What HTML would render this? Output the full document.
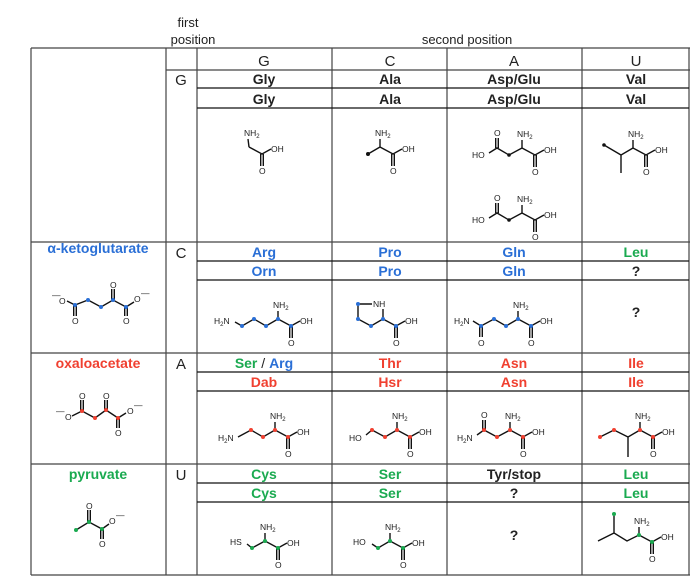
<!DOCTYPE html>
<html><head><meta charset="utf-8"><style>
html,body{margin:0;padding:0;background:#fff}
svg{display:block}
text{font-family:"Liberation Sans",Arial,sans-serif}
.n{font-size:14px;font-weight:bold;text-anchor:middle}
.h{font-size:15px;text-anchor:middle;fill:#222}
.a{font-size:8.5px;fill:#222}
.b{stroke:#111;stroke-width:1.4;fill:none}
.g{stroke:#444;stroke-width:1.2}
.gk{stroke:#111;stroke-width:1.3}
</style></head><body>
<svg width="700" height="585" viewBox="0 0 700 585">
<text x="188" y="27" style="font-size:13px;fill:#222" text-anchor="middle">first</text>
<text x="193" y="44" style="font-size:13px;fill:#222" text-anchor="middle">position</text>
<text x="467" y="44" style="font-size:13px;fill:#222" text-anchor="middle">second position</text>
<!-- grid -->
<g class="g">
<line x1="31" y1="48" x2="690" y2="48"/>
<line x1="31" y1="48" x2="31" y2="575"/>
<line x1="166" y1="48" x2="166" y2="575"/>
<line x1="197" y1="48" x2="197" y2="575"/>
<line x1="332" y1="48" x2="332" y2="575"/>
<line x1="447" y1="48" x2="447" y2="575"/>
<line x1="582" y1="48" x2="582" y2="575"/>
<line x1="689" y1="48" x2="689" y2="575"/>
<line x1="31" y1="575" x2="690" y2="575"/>
<line x1="166" y1="70" x2="690" y2="70"/>
<line x1="31" y1="242" x2="690" y2="242"/>
<line x1="31" y1="353" x2="690" y2="353"/>
<line x1="31" y1="464" x2="690" y2="464"/>
</g>
<g class="gk">
<line x1="197" y1="88" x2="689" y2="88"/><line x1="197" y1="108" x2="689" y2="108"/>
<line x1="197" y1="261" x2="689" y2="261"/><line x1="197" y1="280" x2="689" y2="280"/>
<line x1="197" y1="372" x2="689" y2="372"/><line x1="197" y1="391" x2="689" y2="391"/>
<line x1="197" y1="483" x2="689" y2="483"/><line x1="197" y1="502" x2="689" y2="502"/>
</g>
<!-- headers -->
<text class="h" x="264" y="66">G</text><text class="h" x="390" y="66">C</text>
<text class="h" x="514" y="66">A</text><text class="h" x="636" y="66">U</text>
<text class="h" x="181" y="85">G</text><text class="h" x="181" y="258">C</text>
<text class="h" x="181" y="369">A</text><text class="h" x="181" y="480">U</text>
<!-- names -->
<g fill="#222">
<text class="n" x="264" y="84">Gly</text><text class="n" x="390" y="84">Ala</text><text class="n" x="514" y="84">Asp/Glu</text><text class="n" x="636" y="84">Val</text>
<text class="n" x="264" y="104">Gly</text><text class="n" x="390" y="104">Ala</text><text class="n" x="514" y="104">Asp/Glu</text><text class="n" x="636" y="104">Val</text>
</g>
<g fill="#2a6fd6">
<text class="n" x="264" y="257">Arg</text><text class="n" x="390" y="257">Pro</text><text class="n" x="514" y="257">Gln</text>
<text class="n" x="264" y="276">Orn</text><text class="n" x="390" y="276">Pro</text><text class="n" x="514" y="276">Gln</text>
<text class="n" x="98" y="253">α-ketoglutarate</text>
</g>
<text class="n" x="636" y="257" fill="#1aaa50">Leu</text>
<text class="n" x="636" y="276" fill="#222">?</text>
<text class="n" x="636" y="317" fill="#222">?</text>
<g fill="#f04030">
<text class="n" x="390" y="368">Thr</text><text class="n" x="514" y="368">Asn</text><text class="n" x="636" y="368">Ile</text>
<text class="n" x="264" y="387">Dab</text><text class="n" x="390" y="387">Hsr</text><text class="n" x="514" y="387">Asn</text><text class="n" x="636" y="387">Ile</text>
<text class="n" x="98" y="368">oxaloacetate</text>
</g>
<text class="n" x="264" y="368"><tspan fill="#1aaa50">Ser</tspan><tspan fill="#222" font-weight="normal"> / </tspan><tspan fill="#2a6fd6">Arg</tspan></text>
<g fill="#1aaa50">
<text class="n" x="264" y="479">Cys</text><text class="n" x="390" y="479">Ser</text><text class="n" x="636" y="479">Leu</text>
<text class="n" x="264" y="498">Cys</text><text class="n" x="390" y="498">Ser</text><text class="n" x="636" y="498">Leu</text>
<text class="n" x="98" y="479">pyruvate</text>
</g>
<text class="n" x="514" y="479" fill="#222">Tyr/stop</text>
<text class="n" x="514" y="498" fill="#222">?</text>
<text class="n" x="514" y="540" fill="#222">?</text>

<!-- backbones -->
<g id="bbs">
<!-- helper pattern repeated -->
<g transform="translate(249,147)"><path class="b" d="M0,0 L-1,-8 M0,0 L13,7 L22,2 M11.7,7 L11.7,19 M14.3,7 L14.3,19"/><text class="a" x="-5" y="-11">NH<tspan font-size="6" dy="2">2</tspan></text><text class="a" x="22" y="5">OH</text><text class="a" x="10" y="27">O</text></g>
<g transform="translate(380,147)"><path class="b" d="M0,0 L0,-8 M0,0 L13,7 L22,2 M11.7,7 L11.7,19 M14.3,7 L14.3,19 M0,0 L-12,7"/><circle cx="-12" cy="7" r="2" fill="#111"/><text class="a" x="-5" y="-11">NH<tspan font-size="6" dy="2">2</tspan></text><text class="a" x="22" y="5">OH</text><text class="a" x="10" y="27">O</text></g>
<g transform="translate(522,148)"><path class="b" d="M0,0 L0,-8 M0,0 L13,7 L22,2 M11.7,7 L11.7,19 M14.3,7 L14.3,19 M0,0 L-13,7 L-25,0 L-33,5 M-26.3,0 L-26.3,-10 M-23.7,0 L-23.7,-10"/><circle cx="-13" cy="7" r="1.8" fill="#111"/><text class="a" x="-5" y="-11">NH<tspan font-size="6" dy="2">2</tspan></text><text class="a" x="22" y="5">OH</text><text class="a" x="10" y="27">O</text><text class="a" x="-28" y="-12">O</text><text class="a" x="-50" y="10">HO</text></g>
<g transform="translate(522,213)"><path class="b" d="M0,0 L0,-8 M0,0 L13,7 L22,2 M11.7,7 L11.7,19 M14.3,7 L14.3,19 M0,0 L-13,7 L-25,0 L-33,5 M-26.3,0 L-26.3,-10 M-23.7,0 L-23.7,-10"/><circle cx="-13" cy="7" r="1.8" fill="#111"/><text class="a" x="-5" y="-11">NH<tspan font-size="6" dy="2">2</tspan></text><text class="a" x="22" y="5">OH</text><text class="a" x="10" y="27">O</text><text class="a" x="-28" y="-12">O</text><text class="a" x="-50" y="10">HO</text></g>
<g transform="translate(633,148)"><path class="b" d="M0,0 L0,-8 M0,0 L13,7 L22,2 M11.7,7 L11.7,19 M14.3,7 L14.3,19 M0,0 L-12,7 L-12,25 M-12,7 L-29,-3"/><circle cx="-29" cy="-3" r="1.8" fill="#111"/><text class="a" x="-5" y="-11">NH<tspan font-size="6" dy="2">2</tspan></text><text class="a" x="22" y="5">OH</text><text class="a" x="10" y="27">O</text></g>

<!-- C row blue -->
<g transform="translate(278,319)"><path class="b" d="M0,0 L0,-8 M0,0 L13,7 L22,2 M11.7,7 L11.7,19 M14.3,7 L14.3,19 M0,0 L-12,7 L-24,0 L-36,7 L-43,3"/><g fill="#2a6fd6"><circle r="2"/><circle cx="13" cy="7" r="2"/><circle cx="-12" cy="7" r="2"/><circle cx="-24" cy="0" r="2"/><circle cx="-36" cy="7" r="2"/></g><text class="a" x="-5" y="-11">NH<tspan font-size="6" dy="2">2</tspan></text><text class="a" x="22" y="5">OH</text><text class="a" x="10" y="27">O</text><text class="a" x="-64" y="5">H<tspan font-size="6" dy="2">2</tspan><tspan dy="-2">N</tspan></text></g>
<g transform="translate(383,319)"><path class="b" d="M0,0 L13,7 L22,2 M11.7,7 L11.7,19 M14.3,7 L14.3,19 M0,0 L-12,7 L-25,0 L-25,-15 L-11,-15 M0,0 L0,-10"/><g fill="#2a6fd6"><circle r="2"/><circle cx="13" cy="7" r="2"/><circle cx="-12" cy="7" r="2"/><circle cx="-25" cy="0" r="2"/><circle cx="-25" cy="-15" r="2"/></g><text class="a" x="-10" y="-12">NH</text><text class="a" x="22" y="5">OH</text><text class="a" x="10" y="27">O</text></g>
<g transform="translate(518,319)"><path class="b" d="M0,0 L0,-8 M0,0 L13,7 L22,2 M11.7,7 L11.7,19 M14.3,7 L14.3,19 M0,0 L-12,7 L-24,0 L-37,7 L-45,2 M-38.3,7 L-38.3,18 M-35.7,7 L-35.7,18"/><g fill="#2a6fd6"><circle r="2"/><circle cx="13" cy="7" r="2"/><circle cx="-12" cy="7" r="2"/><circle cx="-24" cy="0" r="2"/><circle cx="-37" cy="7" r="2"/></g><text class="a" x="-5" y="-11">NH<tspan font-size="6" dy="2">2</tspan></text><text class="a" x="22" y="5">OH</text><text class="a" x="10" y="27">O</text><text class="a" x="-40" y="27">O</text><text class="a" x="-64" y="5">H<tspan font-size="6" dy="2">2</tspan><tspan dy="-2">N</tspan></text></g>

<!-- A row red -->
<g transform="translate(275,430)"><path class="b" d="M0,0 L0,-8 M0,0 L13,7 L22,2 M11.7,7 L11.7,19 M14.3,7 L14.3,19 M0,0 L-12,7 L-24,0 L-37,7"/><g fill="#f04030"><circle r="2"/><circle cx="13" cy="7" r="2"/><circle cx="-12" cy="7" r="2"/><circle cx="-24" cy="0" r="2"/></g><text class="a" x="-5" y="-11">NH<tspan font-size="6" dy="2">2</tspan></text><text class="a" x="22" y="5">OH</text><text class="a" x="10" y="27">O</text><text class="a" x="-57" y="11">H<tspan font-size="6" dy="2">2</tspan><tspan dy="-2">N</tspan></text></g>
<g transform="translate(397,430)"><path class="b" d="M0,0 L0,-8 M0,0 L13,7 L22,2 M11.7,7 L11.7,19 M14.3,7 L14.3,19 M0,0 L-12,7 L-25,0 L-31,5"/><g fill="#f04030"><circle r="2"/><circle cx="13" cy="7" r="2"/><circle cx="-12" cy="7" r="2"/><circle cx="-25" cy="0" r="2"/></g><text class="a" x="-5" y="-11">NH<tspan font-size="6" dy="2">2</tspan></text><text class="a" x="22" y="5">OH</text><text class="a" x="10" y="27">O</text><text class="a" x="-48" y="11">HO</text></g>
<g transform="translate(510,430)"><path class="b" d="M0,0 L0,-8 M0,0 L13,7 L22,2 M11.7,7 L11.7,19 M14.3,7 L14.3,19 M0,0 L-13,7 L-26,0 L-33,5 M-27.3,0 L-27.3,-10 M-24.7,0 L-24.7,-10"/><g fill="#f04030"><circle r="2"/><circle cx="13" cy="7" r="2"/><circle cx="-13" cy="7" r="2"/><circle cx="-26" cy="0" r="2"/></g><text class="a" x="-5" y="-11">NH<tspan font-size="6" dy="2">2</tspan></text><text class="a" x="22" y="5">OH</text><text class="a" x="10" y="27">O</text><text class="a" x="-29" y="-12">O</text><text class="a" x="-53" y="11">H<tspan font-size="6" dy="2">2</tspan><tspan dy="-2">N</tspan></text></g>
<g transform="translate(640,430)"><path class="b" d="M0,0 L0,-8 M0,0 L13,7 L22,2 M11.7,7 L11.7,19 M14.3,7 L14.3,19 M0,0 L-12,7 L-12,27 M-12,7 L-26,0 L-40,7"/><g fill="#f04030"><circle r="2"/><circle cx="13" cy="7" r="2"/><circle cx="-26" cy="0" r="2"/><circle cx="-40" cy="7" r="2"/></g><text class="a" x="-5" y="-11">NH<tspan font-size="6" dy="2">2</tspan></text><text class="a" x="22" y="5">OH</text><text class="a" x="10" y="27">O</text></g>

<!-- U row green -->
<g transform="translate(265,541)"><path class="b" d="M0,0 L0,-8 M0,0 L13,7 L22,2 M11.7,7 L11.7,19 M14.3,7 L14.3,19 M0,0 L-13,7 L-18,3"/><g fill="#1aaa50"><circle r="2"/><circle cx="13" cy="7" r="2"/><circle cx="-13" cy="7" r="2"/></g><text class="a" x="-5" y="-11">NH<tspan font-size="6" dy="2">2</tspan></text><text class="a" x="22" y="5">OH</text><text class="a" x="10" y="27">O</text><text class="a" x="-35" y="4">HS</text></g>
<g transform="translate(390,541)"><path class="b" d="M0,0 L0,-8 M0,0 L13,7 L22,2 M11.7,7 L11.7,19 M14.3,7 L14.3,19 M0,0 L-12,7 L-18,3"/><g fill="#1aaa50"><circle r="2"/><circle cx="13" cy="7" r="2"/><circle cx="-12" cy="7" r="2"/></g><text class="a" x="-5" y="-11">NH<tspan font-size="6" dy="2">2</tspan></text><text class="a" x="22" y="5">OH</text><text class="a" x="10" y="27">O</text><text class="a" x="-37" y="4">HO</text></g>
<g transform="translate(639,535)"><path class="b" d="M0,0 L0,-8 M0,0 L13,7 L22,2 M11.7,7 L11.7,19 M14.3,7 L14.3,19 M0,0 L-12,6 L-25,-2 L-25,-21 M-25,-2 L-41,6"/><g fill="#1aaa50"><circle r="2"/><circle cx="13" cy="7" r="2"/><circle cx="-25" cy="-21" r="2"/></g><text class="a" x="-5" y="-11">NH<tspan font-size="6" dy="2">2</tspan></text><text class="a" x="22" y="5">OH</text><text class="a" x="10" y="27">O</text></g>

<!-- left column molecules -->
<g><path class="b" d="M67,301 L75,305 L88,300 L101,307 L113,300 L126,307 L134,302 M73.7,305 L73.7,316 M76.3,305 L76.3,316 M111.7,300 L111.7,289 M114.3,300 L114.3,289 M124.7,307 L124.7,316 M127.3,307 L127.3,316"/>
<g fill="#2a6fd6"><circle cx="75" cy="305" r="2"/><circle cx="88" cy="300" r="2"/><circle cx="101" cy="307" r="2"/><circle cx="113" cy="300" r="2"/><circle cx="126" cy="307" r="2"/></g>
<text class="a" x="52" y="298">—</text><text class="a" x="59" y="304">O</text><text class="a" x="72" y="324">O</text><text class="a" x="110" y="288">O</text><text class="a" x="123" y="324">O</text><text class="a" x="134" y="302">O</text><text class="a" x="141" y="296">—</text></g>
<g><path class="b" d="M72,416 L82,411 L95,418 L106,410 L118,418 L126,413 M80.7,411 L80.7,400 M83.3,411 L83.3,400 M104.7,410 L104.7,400 M107.3,410 L107.3,400 M116.7,418 L116.7,428 M119.3,418 L119.3,428"/>
<g fill="#f04030"><circle cx="82" cy="411" r="2"/><circle cx="95" cy="418" r="2"/><circle cx="106" cy="410" r="2"/><circle cx="118" cy="418" r="2"/></g>
<text class="a" x="56" y="414">—</text><text class="a" x="65" y="420">O</text><text class="a" x="79" y="399">O</text><text class="a" x="103" y="399">O</text><text class="a" x="115" y="436">O</text><text class="a" x="127" y="414">O</text><text class="a" x="134" y="408">—</text></g>
<g><path class="b" d="M76,530 L89,522 L102,529 L109,524 M87.7,522 L87.7,510 M90.3,522 L90.3,510 M100.7,529 L100.7,539 M103.3,529 L103.3,539"/>
<g fill="#1aaa50"><circle cx="76" cy="530" r="2"/><circle cx="89" cy="522" r="2"/><circle cx="102" cy="529" r="2"/></g>
<text class="a" x="86" y="509">O</text><text class="a" x="99" y="547">O</text><text class="a" x="109" y="524">O</text><text class="a" x="116" y="518">—</text></g>
</g>
</svg>
</body></html>
